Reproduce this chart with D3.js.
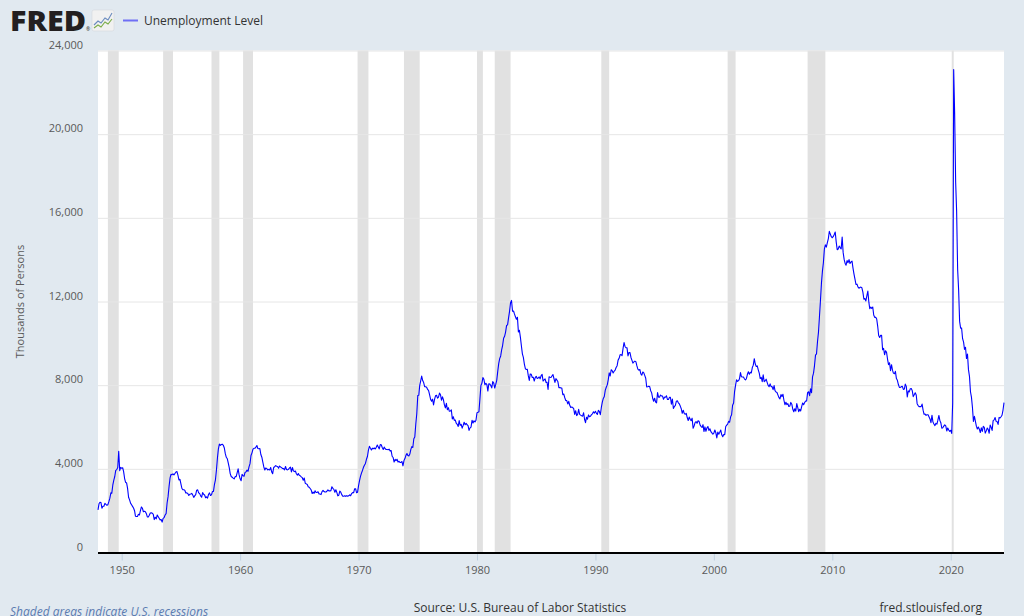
<!DOCTYPE html>
<html>
<head>
<meta charset="utf-8">
<script src="https://cdn.jsdelivr.net/npm/d3@7"></script>
<style>
  html, body { margin: 0; padding: 0; background: #e1e9f0; }
  svg { display: block; }
  text { font-family: "Open Sans", "DejaVu Sans", sans-serif; }
</style>
</head>
<body>
<svg id="chart" width="1024" height="616"></svg>
<script>
// ---- DATA ----
const seriesName = "Unemployment Level";
const startYear = 1948; // monthly values begin January 1948
const unemploymentLevel = [
  // 1948
  2034,2328,2399,2386,2118,2214,2213,2350,2302,2259,2285,2429,
  // 1949
  2596,2849,2828,3216,3450,3634,3924,3962,4061,4840,3915,4068,
  // 1950
  4026,4048,3868,3536,3356,3326,3064,2643,2515,2360,2282,2206,
  // 1951
  2129,1999,1736,1722,1721,1824,1791,2000,2178,2116,1947,1970,
  // 1952
  1951,1855,1704,1699,1778,1890,1902,1877,1827,1574,1687,1611,
  // 1953
  1793,1709,1637,1559,1575,1454,1632,1668,1792,1856,2368,2669,
  // 1954
  3162,3571,3739,3720,3763,3709,3777,3846,3870,3694,3467,3503,
  // 1955
  3283,3060,3005,2996,2978,2847,2853,2819,2729,2783,2802,2826,
  // 1956
  2750,2635,2705,2763,2981,2997,2854,2816,2707,2640,2863,2782,
  // 1957
  2750,2616,2660,2603,2772,2849,2728,2755,2918,2922,3261,3477,
  // 1958
  3947,4531,4943,5183,5123,5162,5177,5125,4996,4725,4551,4484,
  // 1959
  4276,4042,3774,3632,3596,3555,3518,3628,3622,3806,4002,3710,
  // 1960
  3521,3432,3737,3668,3645,3828,3855,3940,3883,4097,4247,4636,
  // 1961
  4765,4944,4982,4982,5036,5117,4969,4960,4966,4686,4555,4317,
  // 1962
  4089,3944,4041,4020,3943,3975,3947,4060,3854,3769,4064,4101,
  // 1963
  4155,4122,4115,4031,4132,4091,4059,4018,4012,3954,4111,3969,
  // 1964
  3950,3977,4042,4082,3849,4063,3904,3868,3894,3764,3700,3773,
  // 1965
  3680,3665,3620,3576,3455,3562,3313,3282,3249,3145,3116,3060,
  // 1966
  2988,2820,2887,2828,2950,2872,2876,2900,2798,2798,2770,2912,
  // 1967
  2968,2915,2889,2895,2929,2992,2944,2945,2958,3143,3066,3018,
  // 1968
  2878,3001,2877,2709,2740,2938,2883,2768,2686,2689,2715,2685,
  // 1969
  2718,2692,2712,2758,2713,2816,2868,2856,3040,3049,2856,2884,
  // 1970
  3201,3453,3635,3797,3919,4071,4175,4256,4456,4591,4898,5076,
  // 1971
  4986,4903,4987,4959,4996,4949,5035,5134,5042,4954,5161,5154,
  // 1972
  5019,4928,5038,4959,4922,4923,4913,4939,4849,4875,4602,4543,
  // 1973
  4326,4452,4394,4459,4329,4363,4305,4305,4350,4144,4396,4489,
  // 1974
  4644,4731,4634,4618,4705,4927,5063,5022,5437,5523,6140,6636,
  // 1975
  7501,7520,7978,8210,8433,8220,8127,7928,7923,7897,7794,7744,
  // 1976
  7534,7326,7230,7330,7053,7322,7490,7518,7380,7430,7620,7545,
  // 1977
  7280,7443,7307,7059,6911,7134,6829,6925,6751,6763,6815,6386,
  // 1978
  6489,6318,6337,6180,6127,6028,6309,6080,6125,5947,6077,6228,
  // 1979
  6109,6173,6109,6069,5840,5959,5996,6320,6190,6296,6238,6325,
  // 1980
  6683,6702,6729,7358,7984,8098,8363,8281,8021,8088,8023,7718,
  // 1981
  8071,8051,7982,7869,8174,8098,7863,8036,8230,8646,9029,9267,
  // 1982
  9397,9705,9895,10244,10335,10538,10849,10881,11217,11529,11938,12051,
  // 1983
  11534,11545,11408,11268,11154,11246,10548,10623,10282,9887,9499,9331,
  // 1984
  9008,8791,8746,8762,8456,8226,8537,8519,8367,8381,8198,8358,
  // 1985
  8423,8321,8339,8395,8302,8460,8513,8196,8248,8298,8128,8138,
  // 1986
  7795,8402,8383,8364,8439,8508,8319,8135,8310,8243,8159,7883,
  // 1987
  7892,7865,7862,7542,7574,7398,7268,7261,7102,7227,7035,6936,
  // 1988
  6953,6929,6876,6601,6779,6546,6605,6843,6604,6568,6537,6518,
  // 1989
  6682,6359,6205,6468,6375,6577,6495,6511,6590,6630,6725,6667,
  // 1990
  6752,6651,6598,6797,6742,6590,6922,7188,7368,7459,7764,7901,
  // 1991
  8015,8265,8586,8439,8736,8692,8586,8666,8722,8842,8931,9198,
  // 1992
  9283,9454,9460,9415,9744,10040,9850,9787,9781,9398,9565,9557,
  // 1993
  9325,9183,9056,9110,9149,9121,8930,8763,8714,8750,8542,8477,
  // 1994
  8630,8583,8470,8331,7915,7927,7946,7933,7734,7632,7375,7230,
  // 1995
  7375,7187,7153,7645,7430,7427,7527,7484,7478,7328,7426,7423,
  // 1996
  7491,7313,7318,7415,7423,7095,7337,6882,6979,7031,7236,7253,
  // 1997
  7158,7102,7000,6873,6655,6799,6655,6608,6656,6454,6308,6476,
  // 1998
  6368,6306,6422,5941,6047,6212,6259,6179,6300,6280,6100,6032,
  // 1999
  5976,6111,5783,6004,5796,5951,6025,5838,5915,5778,5716,5653,
  // 2000
  5708,5858,5733,5481,5758,5651,5747,5853,5625,5534,5639,5634,
  // 2001
  6023,6089,6141,6271,6226,6484,6583,7042,7142,7694,8003,8258,
  // 2002
  8182,8215,8304,8599,8399,8393,8390,8304,8251,8307,8520,8640,
  // 2003
  8520,8618,8588,8842,8957,9266,9011,8896,8921,8732,8576,8317,
  // 2004
  8370,8167,8491,8170,8212,8286,8136,7990,7927,8061,7932,7934,
  // 2005
  7784,7980,7737,7672,7651,7524,7406,7345,7553,7453,7566,7279,
  // 2006
  7064,7184,7072,7120,6980,7001,7175,7091,6847,6727,6872,6762,
  // 2007
  7116,6927,6731,6850,6766,6979,7149,7067,7170,7237,7240,7645,
  // 2008
  7685,7497,7822,7637,8395,8575,8937,9438,9494,10074,10538,11286,
  // 2009
  12058,12898,13426,13853,14499,14707,14601,14814,15009,15352,15219,15098,
  // 2010
  15046,15113,15202,15325,14849,14474,14512,14648,14579,14516,15081,14348,
  // 2011
  14013,13820,13737,13957,13855,14001,13817,13889,13929,13599,13309,13071,
  // 2012
  12812,12828,12696,12636,12668,12688,12657,12449,12106,12141,12026,12272,
  // 2013
  12497,11967,11653,11735,11671,11736,11357,11241,11251,11161,10814,10376,
  // 2014
  10280,10387,10384,9696,9761,9453,9648,9568,9237,8983,9071,8688,
  // 2015
  8979,8705,8575,8549,8660,8315,8234,8029,7896,7892,7930,7945,
  // 2016
  7796,7813,8050,7942,7436,7725,7680,7828,7838,7739,7453,7538,
  // 2017
  7633,7528,7117,7027,6975,6982,6975,7095,6804,6609,6616,6557,
  // 2018
  6585,6589,6492,6387,6204,6564,6246,6140,6066,6177,6134,6324,
  // 2019
  6551,6306,6205,5940,5966,6040,6101,6053,5810,5953,5856,5790,
  // 2020
  5844,5695,7152,23090,20985,17697,16309,13542,12535,11049,10728,10736,
  // 2021
  10221,10059,9713,9812,9272,9486,8743,8422,7686,7427,6930,6266,
  // 2022
  6510,6266,6039,5906,5996,5898,5735,5958,5791,6031,5981,5708,
  // 2023
  5814,5951,5889,5701,6094,5986,5836,6306,6343,6452,6274,6260,
  // 2024
  6124,6458,6429,6492,6562,6811,7163
];
const recessions = [
  ["1948-11-01","1949-10-01"],
  ["1953-07-01","1954-05-01"],
  ["1957-08-01","1958-04-01"],
  ["1960-04-01","1961-02-01"],
  ["1969-12-01","1970-11-01"],
  ["1973-11-01","1975-03-01"],
  ["1980-01-01","1980-07-01"],
  ["1981-07-01","1982-11-01"],
  ["1990-07-01","1991-03-01"],
  ["2001-03-01","2001-11-01"],
  ["2007-12-01","2009-06-01"],
  ["2020-02-01","2020-04-01"]
];
const yTicks = [0, 4000, 8000, 12000, 16000, 20000, 24000];
const xTickYears = [1950, 1960, 1970, 1980, 1990, 2000, 2010, 2020];
const yAxisTitle = "Thousands of Persons";
const sourceText = "Source: U.S. Bureau of Labor Statistics";
const siteText = "fred.stlouisfed.org";
const noteText = "Shaded areas indicate U.S. recessions";

// ---- BUILD ----
const data = unemploymentLevel.map((v, i) => ({
  date: new Date(startYear + Math.floor(i / 12), i % 12, 1),
  value: v
}));

const svg = d3.select("#chart");
const pLeft = 98, pRight = 1004, pTop = 50.5, pBottom = 552.5;

const x = d3.scaleTime()
  .domain([data[0].date, data[data.length - 1].date])
  .range([pLeft, pRight]);
const y = d3.scaleLinear().domain([0, 24000]).range([pBottom, pTop]);

// plot background
svg.append("rect")
  .attr("x", pLeft).attr("y", pTop)
  .attr("width", pRight - pLeft).attr("height", pBottom - pTop)
  .attr("fill", "#ffffff");

// recession shading
const parse = d3.timeParse("%Y-%m-%d");
svg.append("g").selectAll("rect")
  .data(recessions)
  .join("rect")
  .attr("x", d => x(parse(d[0])))
  .attr("y", pTop)
  .attr("width", d => Math.max(2, x(parse(d[1])) - x(parse(d[0]))))
  .attr("height", pBottom - pTop)
  .attr("fill", "#e1e1e1");

// gridlines
const yAxisG = svg.append("g")
  .attr("transform", `translate(${pLeft},0)`)
  .call(d3.axisLeft(y).tickValues(yTicks).tickSize(-(pRight - pLeft)).tickFormat(""));
yAxisG.select(".domain").remove();
yAxisG.selectAll(".tick line").attr("stroke", "#e6e6e6").attr("stroke-width", 1);

// y labels (sit just above gridlines)
svg.append("g").selectAll("text")
  .data(yTicks)
  .join("text")
  .attr("x", 83)
  .attr("y", d => y(d) - 2)
  .attr("text-anchor", "end")
  .attr("font-size", 11)
  .attr("fill", "#595959")
  .text(d => d3.format(",")(d));

// line
const line = d3.line()
  .x(d => x(d.date))
  .y(d => y(d.value));
svg.append("path")
  .datum(data)
  .attr("fill", "none")
  .attr("stroke", "#0000ff")
  .attr("stroke-width", 1.1)
  .attr("stroke-linejoin", "round")
  .attr("d", line);

// x axis
const xAxis = d3.axisBottom(x)
  .tickValues(xTickYears.map(yr => new Date(yr, 0, 1)))
  .tickSize(8)
  .tickSizeOuter(0)
  .tickFormat(d3.timeFormat("%Y"));
const xAxisG = svg.append("g")
  .attr("transform", `translate(0,${pBottom})`)
  .call(xAxis);
xAxisG.select(".domain").remove();
xAxisG.selectAll(".tick line").attr("stroke", "#c0d0e0");
xAxisG.selectAll(".tick text")
  .attr("font-size", 11)
  .attr("font-family", "'Open Sans', sans-serif")
  .attr("fill", "#595959")
  .attr("dy", "0")
  .attr("y", 21);
svg.append("line")
  .attr("x1", pLeft).attr("x2", pRight)
  .attr("y1", pBottom + 0.5).attr("y2", pBottom + 0.5)
  .attr("stroke", "#000").attr("stroke-width", 2);

// y axis title
svg.append("text")
  .attr("transform", `translate(24,${(pTop + pBottom) / 2}) rotate(-90)`)
  .attr("text-anchor", "middle")
  .attr("font-size", 11)
  .attr("fill", "#595959")
  .text(yAxisTitle);

// FRED logo
svg.append("text")
  .attr("x", 10).attr("y", 31)
  .attr("font-size", 29)
  .attr("font-weight", 800)
  .attr("textLength", 76)
  .attr("lengthAdjust", "spacingAndGlyphs")
  .attr("fill", "#231f20")
  .text("FRED");
svg.append("text")
  .attr("x", 86).attr("y", 31)
  .attr("font-size", 5)
  .attr("fill", "#231f20")
  .text("®");
const icon = svg.append("g").attr("transform", "translate(92,10)");
icon.append("rect").attr("width", 22).attr("height", 21).attr("rx", 2)
  .attr("fill", "#f1f1f1").attr("stroke", "#d5d9dd").attr("stroke-width", 0.6);
icon.append("polyline")
  .attr("points", "2,15 6,11 9,13 13,8 16,10 20,3")
  .attr("fill", "none").attr("stroke", "#6b8cbf").attr("stroke-width", 1.1);
icon.append("polyline")
  .attr("points", "2,18 6,15 9,17 13,12 16,14 20,9")
  .attr("fill", "none").attr("stroke", "#7aac48").attr("stroke-width", 1.1);

// legend
svg.append("line")
  .attr("x1", 123).attr("x2", 138).attr("y1", 20.5).attr("y2", 20.5)
  .attr("stroke", "#6f6ff5").attr("stroke-width", 2);
svg.append("text")
  .attr("x", 144).attr("y", 25)
  .attr("font-size", 12)
  .attr("fill", "#333333")
  .text(seriesName);

// footer
svg.append("text")
  .attr("x", 10).attr("y", 616)
  .attr("font-size", 12)
  .attr("font-style", "italic")
  .attr("fill", "#5b7bb0")
  .text(noteText);
svg.append("text")
  .attr("x", 520).attr("y", 612)
  .attr("text-anchor", "middle")
  .attr("font-size", 12)
  .attr("fill", "#333333")
  .text(sourceText);
svg.append("text")
  .attr("x", 982).attr("y", 612)
  .attr("text-anchor", "end")
  .attr("font-size", 12)
  .attr("fill", "#333333")
  .text(siteText);
</script>
</body>
</html>
